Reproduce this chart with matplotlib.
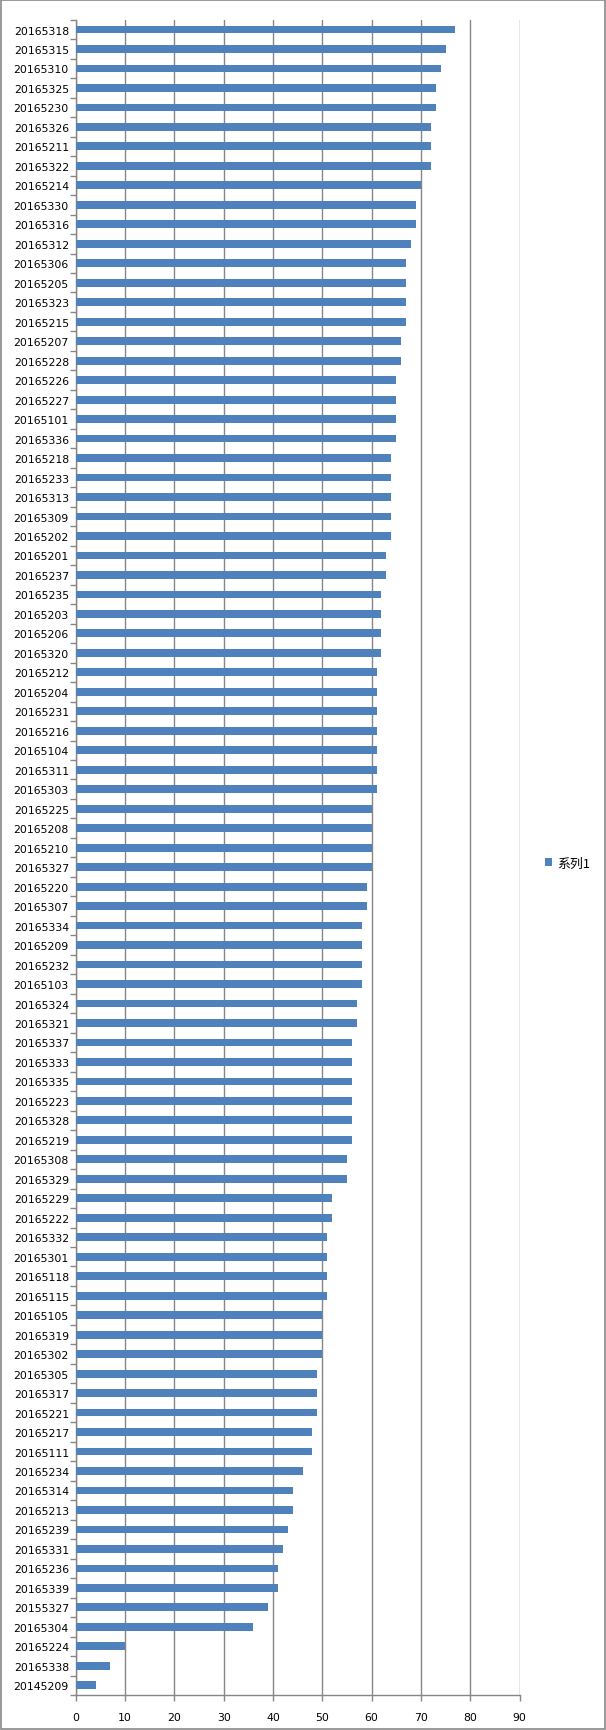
import numpy as np
import matplotlib.pyplot as plt
from matplotlib.patches import Rectangle
from matplotlib.ticker import MultipleLocator, FixedLocator

ids = ['20165318', '20165315', '20165310', '20165325', '20165230', '20165326', '20165211', '20165322',
       '20165214', '20165330', '20165316', '20165312', '20165306', '20165205', '20165323', '20165215',
       '20165207', '20165228', '20165226', '20165227', '20165101', '20165336', '20165218', '20165233',
       '20165313', '20165309', '20165202', '20165201', '20165237', '20165235', '20165203', '20165206',
       '20165320', '20165212', '20165204', '20165231', '20165216', '20165104', '20165311', '20165303',
       '20165225', '20165208', '20165210', '20165327', '20165220', '20165307', '20165334', '20165209',
       '20165232', '20165103', '20165324', '20165321', '20165337', '20165333', '20165335', '20165223',
       '20165328', '20165219', '20165308', '20165329', '20165229', '20165222', '20165332', '20165301',
       '20165118', '20165115', '20165105', '20165319', '20165302', '20165305', '20165317', '20165221',
       '20165217', '20165111', '20165234', '20165314', '20165213', '20165239', '20165331', '20165236',
       '20165339', '20155327', '20165304', '20165224', '20165338', '20145209']
scores = [77, 75, 74, 73, 73, 72, 72, 72,
          70, 69, 69, 68, 67, 67, 67, 67,
          66, 66, 65, 65, 65, 65, 64, 64,
          64, 64, 64, 63, 63, 62, 62, 62,
          62, 61, 61, 61, 61, 61, 61, 61,
          60, 60, 60, 60, 59, 59, 58, 58,
          58, 58, 57, 57, 56, 56, 56, 56,
          56, 56, 55, 55, 52, 52, 51, 51,
          51, 51, 50, 50, 50, 49, 49, 49,
          48, 48, 46, 44, 44, 43, 42, 41,
          41, 39, 36, 10, 7, 4]
series_name = '系列1'

grey = '#868686'
fig = plt.figure(figsize=(6.06, 17.31), dpi=100)
ax = fig.add_axes([0.1251, 0.0202, 0.7322, 0.9678])

y = np.arange(len(ids))
ax.barh(y, scores, height=0.4, color='#4F81BD', label=series_name, zorder=3)

ax.set_ylim(len(ids) - 0.5, -0.5)
ax.set_xlim(0, 90)
ax.xaxis.set_major_locator(MultipleLocator(10))
ax.grid(axis='x', color=grey, lw=1, zorder=0)
ax.set_axisbelow(True)

ax.set_yticks(y)
ax.set_yticklabels(ids, fontsize=7.8, family='DejaVu Sans')
ax.yaxis.set_minor_locator(FixedLocator(np.arange(len(ids) + 1) - 0.5))
ax.tick_params(axis='y', which='major', length=0, pad=5)
ax.tick_params(axis='y', which='minor', length=4, color=grey, width=1)
ax.tick_params(axis='x', length=4, color=grey, width=1, labelsize=7.8, pad=8)

for s in ['top', 'right']:
    ax.spines[s].set_visible(False)
for s in ['left', 'bottom']:
    ax.spines[s].set_color(grey)
    ax.spines[s].set_linewidth(1)

leg = ax.legend(loc='center left', bbox_to_anchor=(1.058, 0.4966), frameon=False,
                handlelength=0.55, handleheight=0.55, handletextpad=0.4, borderpad=0,
                borderaxespad=0, prop={'family': ['Noto Sans CJK SC', 'DejaVu Sans'], 'size': 9.3})

fig.patches.append(Rectangle((0.001, 0.0005), 0.998, 0.999, transform=fig.transFigure,
                             fill=False, edgecolor='#898989', lw=1.2))

plt.savefig('out.png', dpi=100)
